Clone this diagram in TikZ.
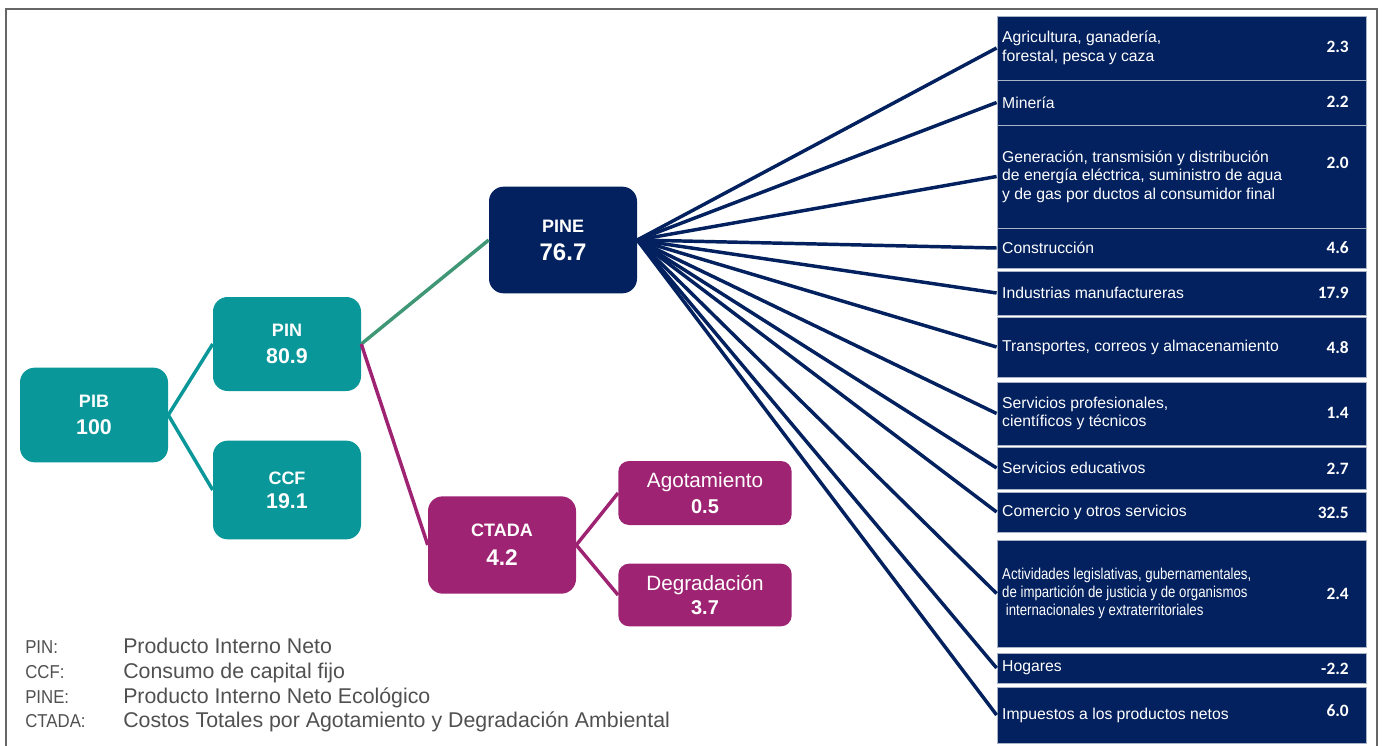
\documentclass[tikz,border=0pt]{standalone}
\usepackage{fontspec}
\usepackage{graphicx}
\setmainfont{Liberation Sans}
\newfontfamily\numfont{Carlito}
\usetikzlibrary{fit}
\definecolor{tealbox}{HTML}{0A979A}
\definecolor{navybox}{HTML}{03215E}
\definecolor{plumbox}{HTML}{9E2473}
\definecolor{greenline}{HTML}{3F9775}
\definecolor{legendgray}{HTML}{505050}
\definecolor{sepline}{HTML}{A9B3C6}
\tikzset{
  mainbox/.style={rounded corners=11pt, text=white, align=center, minimum width=111pt,
    inner sep=0pt, font=\bfseries\fontsize{13.5}{16}\selectfont},
  subbox/.style={rounded corners=8pt, fill=plumbox, text=white, align=center,
    minimum width=130pt, inner sep=0pt, font=\fontsize{15.5}{18}\selectfont},
  sectorbox/.style={fill=navybox, draw=sepline, line width=0.6pt, inner sep=0pt},
  sectortxt/.style={text=white, font=\fontsize{11.8}{13.8}\selectfont, align=left,
    anchor=west, inner sep=0pt},
  sectorval/.style={text=white, font=\numfont\bfseries\fontsize{13}{15}\selectfont,
    anchor=east, inner sep=0pt},
  legabbr/.style={text=legendgray, anchor=base west, inner sep=0pt, font=\fontsize{14}{16}\selectfont},
  legtxt/.style={text=legendgray, anchor=base west, inner sep=0pt, font=\fontsize{16}{18}\selectfont},
  link/.style={line width=2.6pt},
}
\begin{document}
\begin{tikzpicture}[x=0.75pt,y=-0.75pt]
  \useasboundingbox (0,0) rectangle (1382,746);
  \draw[gray!80!black,line width=2pt] (6,746) |- (1377,9) -- (1377,746);

  \node[mainbox,fill=tealbox,minimum height=71pt] (PIB) at (94,415)
    {PIB\\[4pt]{\fontsize{16}{18}\selectfont 100}};
  \node[mainbox,fill=tealbox,minimum height=70.5pt] (PIN) at (287,344)
    {PIN\\[4pt]{\fontsize{16}{18}\selectfont 80.9}};
  \node[mainbox,fill=tealbox,minimum height=74pt] (CCF) at (287,490)
    {CCF\\[2pt]{\fontsize{16}{18}\selectfont 19.1}};
  \node[mainbox,fill=navybox,minimum height=80pt] (PINE) at (563,240)
    {PINE\\[5pt]{\fontsize{18}{20}\selectfont 76.7}};
  \node[mainbox,fill=plumbox,minimum height=73pt] (CTADA) at (502,545)
    {CTADA\\[6pt]{\fontsize{17}{19}\selectfont 4.2}};
  \node[subbox,minimum height=48pt] (AGO) at (705,493)
    {Agotamiento\\[1pt]{\bfseries\fontsize{15}{17}\selectfont 0.5}};
  \node[subbox,minimum height=47pt] (DEG) at (705,595)
    {Degradación\\{\bfseries\fontsize{15}{17}\selectfont 3.7}};

  \draw[link,tealbox] (PIB.east) -- (PIN.west);
  \draw[link,tealbox] (PIB.east) -- (CCF.west);
  \draw[link,greenline] (PIN.east) -- (PINE.west);
  \draw[link,plumbox] (PIN.east) -- (CTADA.west);
  \draw[link,plumbox] (CTADA.east) -- (AGO.west);
  \draw[link,plumbox] (CTADA.east) -- (DEG.west);

  \foreach \n/\yt/\yb/\txt/\val/\vy in {
    1/16/80/{Agricultura, ganadería,\\forestal, pesca y caza}/2.3/47,
    2/80/125/{Minería}/2.2/102,
    3/125/228/{Generación, transmisión y distribución\\de energía eléctrica, suministro de agua\\y de gas por ductos al consumidor final}/2.0/163,
    4/228/268/{Construcción}/4.6/248,
    5/271/315/{Industrias manufactureras}/17.9/293,
    6/317/377/{Transportes, correos y almacenamiento}/4.8/348,
    7/382/445/{Servicios profesionales,\\científicos y técnicos}/1.4/413,
    8/447/489/{Servicios educativos}/2.7/469,
    9/492/532/{Comercio y otros servicios}/32.5/513,
    10/540/647/{\scalebox{0.84}[1]{Actividades legislativas, gubernamentales,}\\\scalebox{0.84}[1]{de impartición de justicia y de organismos}\\\scalebox{0.84}[1]{\ internacionales y extraterritoriales}}/2.4/594,
    11/653/683/{Hogares}/-2.2/669,
    12/687/743/{Impuestos a los productos netos}/6.0/711}
  {
    \node[sectorbox,fit={(997,\yt) (1366,\yb)}] (s\n) {};
    \node[sectortxt] (t\n) at ([xshift=4pt]s\n.west) {\txt};
    \node[sectorval] (v\n) at (1349,\vy) {\val};
    \draw[link,navybox] (PINE.east) -- (s\n.west);
  }

  \foreach \n/\ab/\txt/\y in {1/PIN:/Producto Interno Neto/653,
    2/CCF:/Consumo de capital fijo/678,
    3/PINE:/Producto Interno Neto Ecológico/703,
    4/CTADA:/Costos Totales por Agotamiento y Degradación Ambiental/727}
  {
    \node[legabbr] (ab\n) at (25,\y) {\scalebox{0.9}[1]{\ab}};
    \node[legtxt] (lg\n) at (123,\y) {\txt};
  }
\end{tikzpicture}
\end{document}
